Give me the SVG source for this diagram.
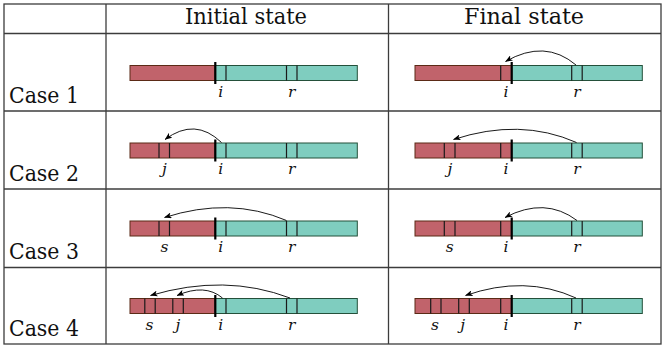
<svg xmlns="http://www.w3.org/2000/svg" width="665" height="345" viewBox="0 0 665 345">
<defs>
<marker id="ah" viewBox="0 0 10 8" markerWidth="7.5" markerHeight="6" refX="9.5" refY="4" orient="auto" markerUnits="userSpaceOnUse"><path d="M0,0 L10,4 L0,8 L2.5,4 Z" fill="#000"/></marker>
</defs>
<style>
.grid{stroke:#3c3c3c;stroke-width:1.3;fill:none}
.t{font-family:'DejaVu Serif','Liberation Serif',serif;font-size:22.5px;fill:#111}
.m{font-family:'DejaVu Serif','Liberation Serif',serif;font-style:italic;font-size:15.5px;fill:#111;text-anchor:middle}
.red{fill:#C1636B;stroke:#5b2a16;stroke-width:1}
.teal{fill:#7FCDBF;stroke:#24503a;stroke-width:1}
.tk{stroke:#1a1a1a;stroke-width:1.2}
.bd{stroke:#000;stroke-width:2.2}
.arr{fill:none;stroke:#000;stroke-width:0.9;marker-end:url(#ah)}
</style>
<rect width="665" height="345" fill="#fff"/>
<g id="table">
<rect class="grid" x="4" y="4" width="657" height="340"/>
<line class="grid" x1="106" y1="4" x2="106" y2="344"/>
<line class="grid" x1="388.5" y1="4" x2="388.5" y2="344"/>
<line class="grid" x1="4" y1="33.5" x2="661" y2="33.5"/>
<line class="grid" x1="4" y1="111" x2="661" y2="111"/>
<line class="grid" x1="4" y1="189" x2="661" y2="189"/>
<line class="grid" x1="4" y1="267.5" x2="661" y2="267.5"/>
</g>
<g id="header">
<text class="t" x="185" y="23.5" textLength="122" lengthAdjust="spacingAndGlyphs">Initial state</text>
<text class="t" x="464" y="23.5" textLength="120" lengthAdjust="spacingAndGlyphs">Final state</text>
</g>
<g id="case-labels">
<text class="t" x="9" y="102.5" textLength="70" lengthAdjust="spacingAndGlyphs">Case 1</text>
<text class="t" x="9" y="180.5" textLength="70" lengthAdjust="spacingAndGlyphs">Case 2</text>
<text class="t" x="9" y="259" textLength="70" lengthAdjust="spacingAndGlyphs">Case 3</text>
<text class="t" x="9" y="335.5" textLength="70" lengthAdjust="spacingAndGlyphs">Case 4</text>
</g>
<g id="case1-initial" transform="translate(0,65.5)">
<rect class="red" x="130" y="0" width="85.3" height="15"/>
<rect class="teal" x="215.3" y="0" width="142" height="15"/>
<line class="tk" x1="226" y1="0" x2="226" y2="15"/>
<line class="tk" x1="286.5" y1="0" x2="286.5" y2="15"/>
<line class="tk" x1="297" y1="0" x2="297" y2="15"/>
<line class="bd" x1="215.3" y1="-3.5" x2="215.3" y2="18.5"/>
<text class="m" x="220.7" y="31">i</text>
<text class="m" x="291.8" y="31">r</text>
</g>
<g id="case1-final" transform="translate(285,65.5)">
<rect class="red" x="130" y="0" width="96.7" height="15"/>
<rect class="teal" x="226.7" y="0" width="130.6" height="15"/>
<line class="tk" x1="215.7" y1="0" x2="215.7" y2="15"/>
<line class="tk" x1="286.7" y1="0" x2="286.7" y2="15"/>
<line class="tk" x1="297.2" y1="0" x2="297.2" y2="15"/>
<line class="bd" x1="226.7" y1="-3.5" x2="226.7" y2="18.5"/>
<text class="m" x="221" y="31">i</text>
<text class="m" x="292" y="31">r</text>
</g>
<g id="case2-initial" transform="translate(0,143)">
<rect class="red" x="130" y="0" width="85.3" height="15"/>
<rect class="teal" x="215.3" y="0" width="142" height="15"/>
<line class="tk" x1="159" y1="0" x2="159" y2="15"/>
<line class="tk" x1="169.5" y1="0" x2="169.5" y2="15"/>
<line class="tk" x1="226" y1="0" x2="226" y2="15"/>
<line class="tk" x1="286.5" y1="0" x2="286.5" y2="15"/>
<line class="tk" x1="297" y1="0" x2="297" y2="15"/>
<line class="bd" x1="215.3" y1="-3.5" x2="215.3" y2="18.5"/>
<text class="m" x="164.5" y="31">j</text>
<text class="m" x="220.7" y="31">i</text>
<text class="m" x="291.8" y="31">r</text>
</g>
<g id="case2-final" transform="translate(285,143)">
<rect class="red" x="130" y="0" width="96.7" height="15"/>
<rect class="teal" x="226.7" y="0" width="130.6" height="15"/>
<line class="tk" x1="159.3" y1="0" x2="159.3" y2="15"/>
<line class="tk" x1="170" y1="0" x2="170" y2="15"/>
<line class="tk" x1="215.7" y1="0" x2="215.7" y2="15"/>
<line class="tk" x1="286.7" y1="0" x2="286.7" y2="15"/>
<line class="tk" x1="297.2" y1="0" x2="297.2" y2="15"/>
<line class="bd" x1="226.7" y1="-3.5" x2="226.7" y2="18.5"/>
<text class="m" x="164.8" y="31">j</text>
<text class="m" x="221" y="31">i</text>
<text class="m" x="292" y="31">r</text>
</g>
<g id="case3-initial" transform="translate(0,221)">
<rect class="red" x="130" y="0" width="85.3" height="15"/>
<rect class="teal" x="215.3" y="0" width="142" height="15"/>
<line class="tk" x1="159" y1="0" x2="159" y2="15"/>
<line class="tk" x1="169.5" y1="0" x2="169.5" y2="15"/>
<line class="tk" x1="226" y1="0" x2="226" y2="15"/>
<line class="tk" x1="286.5" y1="0" x2="286.5" y2="15"/>
<line class="tk" x1="297" y1="0" x2="297" y2="15"/>
<line class="bd" x1="215.3" y1="-3.5" x2="215.3" y2="18.5"/>
<text class="m" x="164.5" y="31">s</text>
<text class="m" x="220.7" y="31">i</text>
<text class="m" x="291.8" y="31">r</text>
</g>
<g id="case3-final" transform="translate(285,221)">
<rect class="red" x="130" y="0" width="96.7" height="15"/>
<rect class="teal" x="226.7" y="0" width="130.6" height="15"/>
<line class="tk" x1="159.3" y1="0" x2="159.3" y2="15"/>
<line class="tk" x1="170" y1="0" x2="170" y2="15"/>
<line class="tk" x1="215.7" y1="0" x2="215.7" y2="15"/>
<line class="tk" x1="286.7" y1="0" x2="286.7" y2="15"/>
<line class="tk" x1="297.2" y1="0" x2="297.2" y2="15"/>
<line class="bd" x1="226.7" y1="-3.5" x2="226.7" y2="18.5"/>
<text class="m" x="164.8" y="31">s</text>
<text class="m" x="221" y="31">i</text>
<text class="m" x="292" y="31">r</text>
</g>
<g id="case4-initial" transform="translate(0,298.5)">
<rect class="red" x="130" y="0" width="85.3" height="15"/>
<rect class="teal" x="215.3" y="0" width="142" height="15"/>
<line class="tk" x1="144.8" y1="0" x2="144.8" y2="15"/>
<line class="tk" x1="155.2" y1="0" x2="155.2" y2="15"/>
<line class="tk" x1="172.8" y1="0" x2="172.8" y2="15"/>
<line class="tk" x1="183.3" y1="0" x2="183.3" y2="15"/>
<line class="tk" x1="226" y1="0" x2="226" y2="15"/>
<line class="tk" x1="286.5" y1="0" x2="286.5" y2="15"/>
<line class="tk" x1="297" y1="0" x2="297" y2="15"/>
<line class="bd" x1="215.3" y1="-3.5" x2="215.3" y2="18.5"/>
<text class="m" x="149.5" y="31">s</text>
<text class="m" x="177.8" y="31">j</text>
<text class="m" x="220.7" y="31">i</text>
<text class="m" x="291.8" y="31">r</text>
</g>
<g id="case4-final" transform="translate(285,298.5)">
<rect class="red" x="130" y="0" width="96.7" height="15"/>
<rect class="teal" x="226.7" y="0" width="130.6" height="15"/>
<line class="tk" x1="145.7" y1="0" x2="145.7" y2="15"/>
<line class="tk" x1="156" y1="0" x2="156" y2="15"/>
<line class="tk" x1="173.7" y1="0" x2="173.7" y2="15"/>
<line class="tk" x1="184.3" y1="0" x2="184.3" y2="15"/>
<line class="tk" x1="215.7" y1="0" x2="215.7" y2="15"/>
<line class="tk" x1="286.7" y1="0" x2="286.7" y2="15"/>
<line class="tk" x1="297.2" y1="0" x2="297.2" y2="15"/>
<line class="bd" x1="226.7" y1="-3.5" x2="226.7" y2="18.5"/>
<text class="m" x="150" y="31">s</text>
<text class="m" x="177.7" y="31">j</text>
<text class="m" x="221" y="31">i</text>
<text class="m" x="292" y="31">r</text>
</g>
<g id="connectors">
<path class="arr" d="M576,65 Q545,38.75 505.5,61.5"/>
<path class="arr" d="M221.5,142.5 Q195,117 165,139.5"/>
<path class="arr" d="M576.5,142.5 Q520,117.6 453.5,139.5"/>
<path class="arr" d="M286.5,220.5 Q230,196.4 164.5,217.5"/>
<path class="arr" d="M577,220.5 Q545,196.4 505,217.5"/>
<path class="arr" d="M290,298 Q225,273.25 150.5,295.5"/>
<path class="arr" d="M222.5,298 Q205,283.25 177,295.5"/>
<path class="arr" d="M576,298 Q525,274.65 465.5,295.5"/>
</g>
</svg>
